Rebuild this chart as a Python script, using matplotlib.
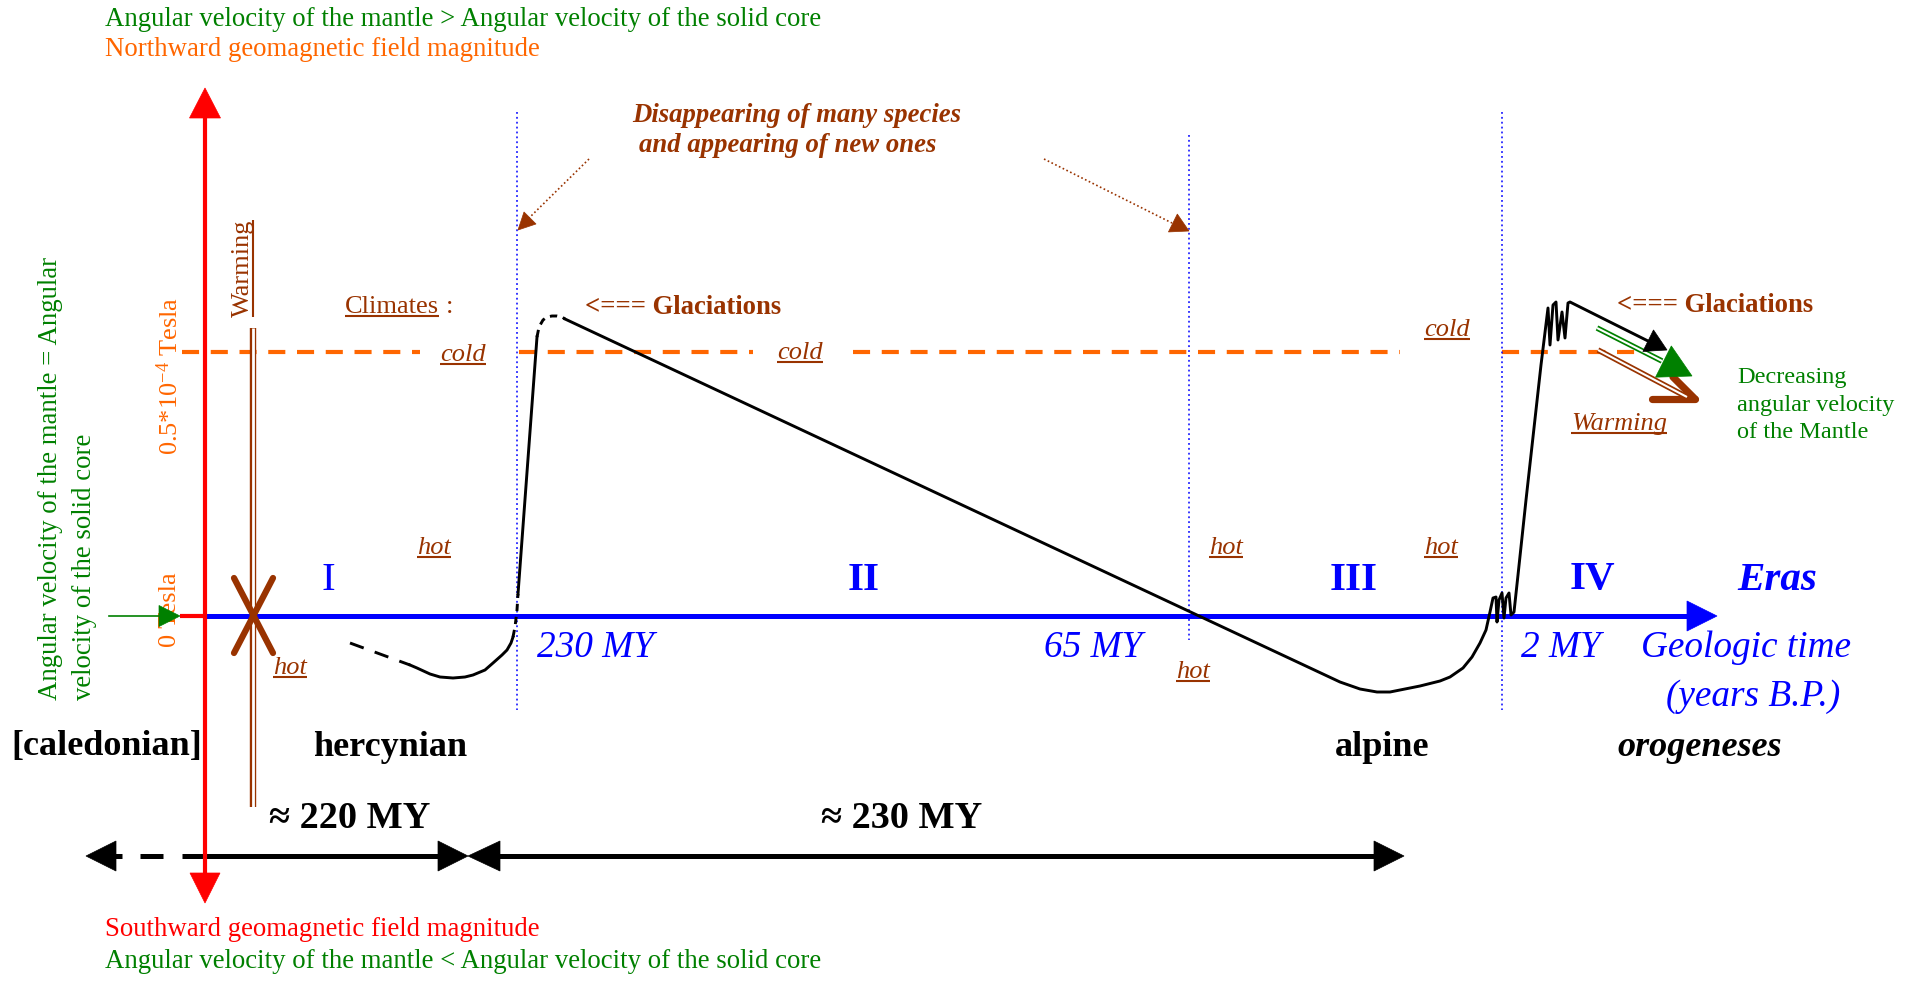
import numpy as np
import matplotlib
matplotlib.use("Agg")
import matplotlib.pyplot as plt
from matplotlib.patches import Polygon

plt.rcParams['font.family'] = ['Liberation Serif', 'DejaVu Serif']
plt.rcParams['mathtext.fontset'] = 'custom'
plt.rcParams['mathtext.rm'] = 'Liberation Serif'
plt.rcParams['mathtext.it'] = 'Liberation Serif:italic'
plt.rcParams['mathtext.bf'] = 'Liberation Serif:bold'

# ---------------- colours ----------------
GREEN = '#008000'
ORANGE = '#FF6600'
BROWN = '#993300'
BLUE = '#0000FF'
RED = '#FF0000'

# ---------------- data (timeline position, vertical position) ----------------
# Era I (dashed start, solid trough)
era1_dash_x = [350, 410]
era1_dash_y = [643, 665]
era1_low_x = [410, 417, 430, 440, 453, 465, 473, 485, 493, 502, 507, 511, 513]
era1_low_y = [665, 668, 674, 677, 678, 677, 675, 670, 663, 655, 650, 643, 637]
cross1_x = [513, 515, 517, 518]
cross1_y = [637, 627, 610, 594]
rise1_x = [518, 537]
rise1_y = [594, 337]
peak1_x = [537, 539, 543, 547, 552, 557, 562, 565]
peak1_y = [337, 327, 320, 317, 316, 316, 317, 319]
# Eras II-IV: long decline, trough, oscillations, rise, oscillations, decline
main_x = [565, 1340, 1360, 1377, 1390, 1400, 1420, 1440, 1450, 1463, 1472, 1480,
          1486, 1490, 1493, 1496, 1497, 1499, 1502, 1504, 1506, 1509, 1511, 1514,
          1518, 1526, 1541, 1548, 1550, 1553, 1556, 1558, 1562, 1565, 1568, 1570, 1648]
main_y = [319, 682, 689, 692, 692, 690, 686, 681, 677, 668, 657, 643,
          630, 612, 598, 597, 622, 600, 593, 618, 598, 593, 615, 612,
          575, 500, 365, 308, 345, 305, 302, 340, 312, 338, 303, 302, 341]

era_labels = ['I', 'II', 'III', 'IV']
era_label_x = [328, 864, 1354, 1592]
era_label_weight = ['normal', 'bold', 'bold', 'bold']
era_bounds_x = [517, 1189, 1502]
era_bounds_top = [112, 135, 112]
era_bounds_bottom = [710, 640, 710]
time_labels = ['230 MY', '65 MY', '2 MY']
time_label_x = [595, 1093, 1561]
orogeny_labels = ['[caledonian]', 'hercynian', 'alpine', 'orogeneses']
orogeny_x = [107, 390, 1382, 1700]
orogeny_style = ['normal', 'normal', 'normal', 'italic']
duration_labels = ['\u2248 220 MY', '\u2248 230 MY']
duration_x = [350, 902]
hot_x = [434, 290, 1226, 1193, 1441]
hot_y = [548, 668, 548, 672, 548]
cold_x = [463, 800, 1447]
cold_y = [355, 353, 330]
threshold_segments = [(182, 420), (519, 753), (853, 1400), (1502, 1645)]
Y_AXIS = 616
Y_THRESH = 352

# ---------------- figure ----------------
W, H = 1910, 986
fig = plt.figure(figsize=(19.1, 9.86), dpi=100)
ax = fig.add_axes([0, 0, 1, 1])
ax.set_xlim(0, W)
ax.set_ylim(H, 0)
ax.axis('off')


def head(tip, frm, length, width, color, z=6):
    tip = np.array(tip, float)
    d = tip - np.array(frm, float)
    d /= np.hypot(*d)
    n = np.array([-d[1], d[0]])
    base = tip - d * length
    ax.add_patch(Polygon([tip, base + n * width / 2, base - n * width / 2],
                         closed=True, fc=color, ec=color, lw=0.5, zorder=z))


def dline(xs, ys, color, outer, inner, z=4):
    ax.plot(xs, ys, color=color, lw=outer, zorder=z, solid_capstyle='butt')
    ax.plot(xs, ys, color='white', lw=inner, zorder=z + 0.1, solid_capstyle='butt')


# orange threshold dashed line (0.5e-4 T)
for a, b in threshold_segments:
    ax.plot([a, b], [Y_THRESH, Y_THRESH], color=ORANGE, lw=3, dashes=(4.1, 2.8), zorder=2)

# blue dotted era boundaries
for x, t, b in zip(era_bounds_x, era_bounds_top, era_bounds_bottom):
    ax.plot([x, x], [t, b], color=BLUE, lw=1.1, ls=(0, (1.2, 2.0)), zorder=2)

# red vertical axis
ax.plot([205, 205], [110, 880], color=RED, lw=3, zorder=5, solid_capstyle='butt')
head((205, 88), (205, 300), 30, 31, RED)
head((205, 903), (205, 700), 30, 30, RED)
ax.plot([180, 205], [Y_AXIS, Y_AXIS], color=RED, lw=3, zorder=5, solid_capstyle='butt')

# blue time axis
ax.plot([205, 1690], [Y_AXIS, Y_AXIS], color=BLUE, lw=3.6, zorder=4, solid_capstyle='butt')
head((1717, Y_AXIS), (1500, Y_AXIS), 30, 30, BLUE)

# green arrow on the left
ax.plot([109, 165], [Y_AXIS, Y_AXIS], color=GREEN, lw=1.2, zorder=7)
head((180, Y_AXIS), (100, Y_AXIS), 21, 21, GREEN, z=8)

# brown warming double line and X
dline([253, 253], [328, 807], BROWN, 4.6, 2.0)
ax.plot([234, 273], [578, 653], color=BROWN, lw=4.5, solid_capstyle='round', zorder=6)
ax.plot([273, 234], [578, 653], color=BROWN, lw=4.5, solid_capstyle='round', zorder=6)

# black curve
kw = dict(color='black', lw=2.1, zorder=7, solid_joinstyle='round')
ax.plot(era1_dash_x, era1_dash_y, color='black', lw=2.1, dashes=(5, 4), zorder=7)
ax.plot(era1_low_x, era1_low_y, **kw)
ax.plot(cross1_x, cross1_y, color='black', lw=2.1, dashes=(2.5, 2), zorder=7)
ax.plot(rise1_x, rise1_y, **kw)
ax.plot(peak1_x, peak1_y, color='black', lw=2.1, dashes=(2.5, 2), zorder=7)
ax.plot(main_x, main_y, **kw)
head((1667, 350), (1570, 302), 21, 24, 'black', z=8)

# green double arrow (decreasing angular velocity)
dline([1597, 1662], [328, 361], GREEN, 4.0, 1.5, z=6)
head((1692, 376), (1597, 328), 32, 35, GREEN, z=9)
# brown double arrow (warming)
dline([1598, 1687], [350, 397], BROWN, 4.0, 1.5, z=6)
ax.plot([1652, 1695], [399, 399], color=BROWN, lw=5.2, solid_capstyle='round', zorder=6)
ax.plot([1673, 1695], [377, 399], color=BROWN, lw=5.2, solid_capstyle='round', zorder=6)

# brown dotted pointers
ax.plot([589, 528], [159, 219], color=BROWN, lw=1.2, ls=(0, (1, 1.5)), zorder=5)
head((518, 230), (589, 159), 17, 17, BROWN)
ax.plot([1044, 1172], [159, 223], color=BROWN, lw=1.2, ls=(0, (1, 1.5)), zorder=5)
head((1189, 231), (1044, 159), 18, 20, BROWN)

# bottom duration arrows
YD = 856
head((86, YD), (300, YD), 30, 30, 'black')
ax.plot([114, 122], [YD, YD], color='black', lw=3.6, solid_capstyle='butt')
ax.plot([140, 163], [YD, YD], color='black', lw=3.6, solid_capstyle='butt')
ax.plot([182, 440], [YD, YD], color='black', lw=3.6, solid_capstyle='butt')
head((468, YD), (300, YD), 30, 30, 'black')
head((468, YD), (700, YD), 32, 30, 'black')
ax.plot([498, 1376], [YD, YD], color='black', lw=3.6, solid_capstyle='butt')
head((1404, YD), (1000, YD), 30, 30, 'black')

# ---------------- texts ----------------
underlined = []

def T(x, y, s, ul=False, **k):
    k.setdefault('va', 'center')
    t = ax.text(x, y, s, **k)
    if ul:
        underlined.append(t)
    return t

FS_NOTE = 19.3
T(105, 20, 'Angular velocity of the mantle > Angular velocity of the solid core', color=GREEN, fontsize=FS_NOTE, ha='left')
T(105, 50, 'Northward geomagnetic field magnitude', color=ORANGE, fontsize=FS_NOTE, ha='left')
T(105, 930, 'Southward geomagnetic field magnitude', color=RED, fontsize=FS_NOTE, ha='left')
T(105, 962, 'Angular velocity of the mantle < Angular velocity of the solid core', color=GREEN, fontsize=FS_NOTE, ha='left')

T(50, 700, 'Angular velocity of the mantle = Angular', color=GREEN, fontsize=FS_NOTE, rotation=90,
  rotation_mode='anchor', ha='left')
T(84, 700, 'velocity of the solid core', color=GREEN, fontsize=FS_NOTE, rotation=90,
  rotation_mode='anchor', ha='left')
T(170, 647, '0 Tesla', color=ORANGE, fontsize=19, rotation=90, rotation_mode='anchor', ha='left')
T(170, 455, '0.5*10$^{-4}$ Tesla', color=ORANGE, fontsize=19, rotation=90, rotation_mode='anchor', ha='left')
T(243, 317, 'Warming', ul=True, color=BROWN, fontsize=19, rotation=90, rotation_mode='anchor', ha='left')

T(345, 307, 'Climates', ul=True, color=BROWN, fontsize=19, ha='left')
T(446, 307, ':', color=BROWN, fontsize=19, ha='left')
for x, y in zip(cold_x, cold_y):
    T(x, y, 'cold', ul=True, color=BROWN, fontsize=19, style='italic', ha='center')
for x, y in zip(hot_x, hot_y):
    T(x, y, 'hot', ul=True, color=BROWN, fontsize=19, style='italic', ha='center')

T(683, 307, '<=== Glaciations', color=BROWN, fontsize=19.2, weight='bold', ha='center')
T(1715, 305, '<=== Glaciations', color=BROWN, fontsize=19.2, weight='bold', ha='center')
T(797, 115, 'Disappearing of many species', color=BROWN, fontsize=19.3, weight='bold', style='italic', ha='center')
T(788, 146, 'and appearing of new ones', color=BROWN, fontsize=19.3, weight='bold', style='italic', ha='center')

for s, y in zip(['Decreasing', 'angular velocity', 'of the Mantle'], [377, 405, 433]):
    T(1737, y, s, color=GREEN, fontsize=17.5, ha='left')
T(1619, 424, 'Warming', ul=True, color=BROWN, fontsize=19, style='italic', ha='center')

for s, x, w in zip(era_labels, era_label_x, era_label_weight):
    T(x, 580, s, color=BLUE, fontsize=29.5, weight=w, ha='center')
T(1777, 580, 'Eras', color=BLUE, fontsize=29.5, weight='bold', style='italic', ha='center')
for s, x in zip(time_labels, time_label_x):
    T(x, 648, s, color=BLUE, fontsize=26.8, style='italic', ha='center')
T(1746, 648, 'Geologic time', color=BLUE, fontsize=26.8, style='italic', ha='center')
T(1753, 697, '(years B.P.)', color=BLUE, fontsize=26.8, style='italic', ha='center')

for s, x, st in zip(orogeny_labels, orogeny_x, orogeny_style):
    T(x, 747, s, color='black', fontsize=26, weight='bold', style=st, ha='center')
for s, x in zip(duration_labels, duration_x):
    T(x, 818, s, color='black', fontsize=27.5, weight='bold', ha='center')

# underlines
fig.canvas.draw()
r = fig.canvas.get_renderer()
inv = ax.transData.inverted()
for t in underlined:
    bb = t.get_window_extent(renderer=r)
    (x0, y0), (x1, y1) = inv.transform([[bb.x0, bb.y0], [bb.x1, bb.y1]])
    if t.get_rotation() == 90:
        xu = max(x0, x1) - 1
        ax.plot([xu, xu], [y0, y1], color=t.get_color(), lw=1.5, zorder=6, solid_capstyle='butt')
    else:
        yu = max(y0, y1) - 2
        ax.plot([x0, x1], [yu, yu], color=t.get_color(), lw=1.5, zorder=6, solid_capstyle='butt')

fig.savefig('out.png', dpi=100, facecolor='white')
